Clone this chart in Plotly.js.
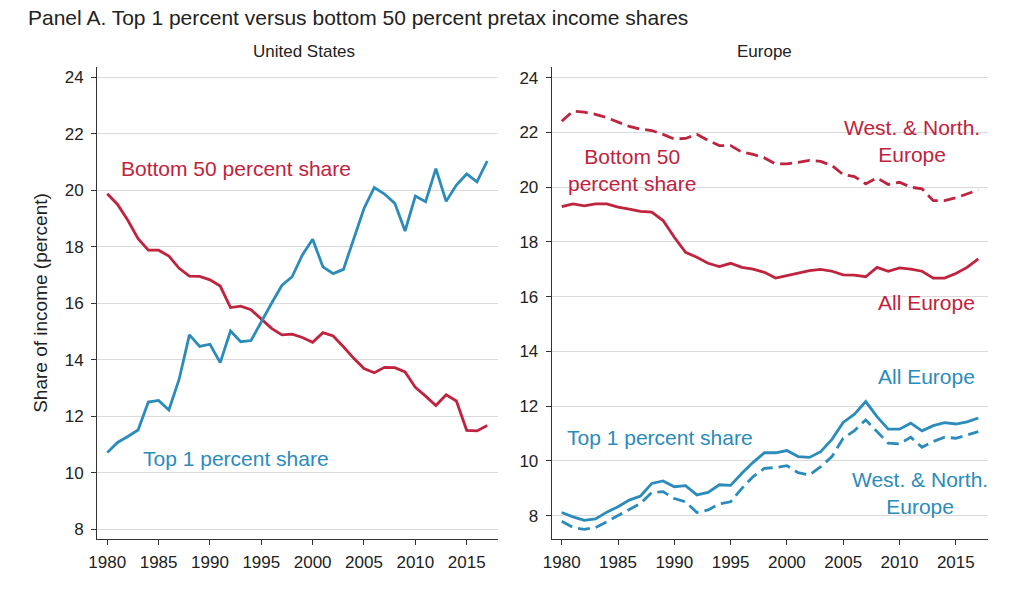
<!DOCTYPE html>
<html>
<head>
<meta charset="utf-8">
<script src="https://cdn.plot.ly/plotly-3.0.1.min.js"></script>
<style>html,body{margin:0;padding:0;background:#fff;}#chart{width:1024px;height:595px;}</style>
</head>
<body>
<div id="chart"></div>
<script>
// ---- Data ----
const years = [1980,1981,1982,1983,1984,1985,1986,1987,1988,1989,
               1990,1991,1992,1993,1994,1995,1996,1997,1998,1999,
               2000,2001,2002,2003,2004,2005,2006,2007,2008,2009,
               2010,2011,2012,2013,2014,2015,2016,2017];

const usBottom50 = [19.88,19.50,18.94,18.29,17.88,17.88,17.67,17.24,16.96,16.95,
                    16.83,16.61,15.85,15.90,15.77,15.43,15.11,14.88,14.91,14.79,
                    14.62,14.96,14.84,14.46,14.05,13.69,13.54,13.73,13.72,13.57,
                    13.02,12.71,12.38,12.76,12.54,11.50,11.48,11.67];

const usTop1 = [10.71,11.07,11.28,11.51,12.50,12.56,12.22,13.31,14.88,14.47,
                14.55,13.90,15.02,14.64,14.68,15.35,16.00,16.63,16.94,17.71,
                18.27,17.29,17.05,17.20,18.30,19.36,20.10,19.87,19.54,18.56,
                19.80,19.60,20.77,19.61,20.19,20.58,20.30,21.04];

const euBottom50All = [19.29,19.39,19.32,19.39,19.39,19.27,19.20,19.12,19.09,18.78,
                       18.17,17.62,17.44,17.22,17.10,17.22,17.07,17.01,16.89,16.68,
                       16.77,16.85,16.95,17.00,16.93,16.80,16.79,16.73,17.07,16.93,
                       17.05,17.01,16.93,16.68,16.68,16.85,17.07,17.38];

const euBottom50WN = [22.41,22.78,22.74,22.66,22.54,22.38,22.22,22.12,22.07,21.93,
                      21.76,21.78,21.93,21.71,21.52,21.52,21.28,21.20,21.07,20.85,
                      20.85,20.91,20.98,20.94,20.79,20.46,20.39,20.12,20.34,20.10,
                      20.18,20.00,19.94,19.51,19.51,19.61,19.76,19.90];

const euTop1All = [8.12,7.96,7.83,7.88,8.13,8.33,8.57,8.72,9.18,9.27,
                   9.06,9.10,8.76,8.85,9.13,9.11,9.55,9.95,10.30,10.30,
                   10.38,10.16,10.13,10.34,10.79,11.41,11.71,12.17,11.62,11.16,
                   11.16,11.38,11.10,11.29,11.40,11.35,11.43,11.57];

const euTop1WN = [7.80,7.57,7.50,7.57,7.78,7.99,8.23,8.45,8.85,8.88,
                  8.63,8.51,8.12,8.21,8.43,8.51,9.00,9.43,9.73,9.76,
                  9.83,9.57,9.49,9.79,10.16,10.83,11.11,11.50,11.07,10.65,
                  10.62,10.87,10.50,10.71,10.87,10.83,10.95,11.07];

const yTicks = [8,10,12,14,16,18,20,22,24];
const xTicks = [1980,1985,1990,1995,2000,2005,2010,2015];

// ---- Styling ----
const RED = '#c0233d';
const BLUE = '#2b8bbb';
const FONT = 'Liberation Sans, Arial, Helvetica, sans-serif';
const LW = 2.8;
const DASH = '12px,6px';

const traces = [
  {x: years, y: usBottom50, xaxis: 'x', yaxis: 'y', mode: 'lines', line: {color: RED, width: LW}, name: 'US bottom 50'},
  {x: years, y: usTop1, xaxis: 'x', yaxis: 'y', mode: 'lines', line: {color: BLUE, width: LW}, name: 'US top 1'},
  {x: years, y: euBottom50WN, xaxis: 'x2', yaxis: 'y2', mode: 'lines', line: {color: RED, width: LW, dash: DASH}, name: 'WN bottom 50'},
  {x: years, y: euBottom50All, xaxis: 'x2', yaxis: 'y2', mode: 'lines', line: {color: RED, width: LW}, name: 'EU bottom 50'},
  {x: years, y: euTop1WN, xaxis: 'x2', yaxis: 'y2', mode: 'lines', line: {color: BLUE, width: LW, dash: DASH}, name: 'WN top 1'},
  {x: years, y: euTop1All, xaxis: 'x2', yaxis: 'y2', mode: 'lines', line: {color: BLUE, width: LW}, name: 'EU top 1'}
];

const xCommon = {
  tickmode: 'array', tickvals: xTicks, ticktext: xTicks.map(String),
  showgrid: false, zeroline: false,
  showline: true, linecolor: '#333', linewidth: 1,
  ticks: 'outside', ticklen: 5, tickcolor: '#333', tickwidth: 1,
  ticklabelstandoff: 3,
  tickfont: {family: FONT, size: 17, color: '#222'}
};
const yCommon = {
  tickmode: 'array', tickvals: yTicks, ticktext: yTicks.map(String),
  showgrid: true, gridcolor: '#dadada', gridwidth: 1, zeroline: false,
  showline: true, linecolor: '#333', linewidth: 1,
  ticks: 'outside', ticklen: 5, tickcolor: '#333', tickwidth: 1,
  ticklabelstandoff: 4,
  tickfont: {family: FONT, size: 17, color: '#222'}
};

function ann(text, x, y, color, xref, yref) {
  return {text: text, x: x, y: y, xref: xref, yref: yref, showarrow: false,
          xanchor: 'center', yanchor: 'middle', align: 'center',
          font: {family: FONT, size: 21, color: color}};
}

const layout = {
  width: 1024, height: 595,
  margin: {l: 20, r: 20, t: 67, b: 56},
  paper_bgcolor: '#fff', plot_bgcolor: '#fff',
  showlegend: false,
  font: {family: FONT, color: '#222'},
  title: {text: 'Panel A. Top 1 percent versus bottom 50 percent pretax income shares',
          x: 28/1024, xanchor: 'left', xref: 'container',
          y: 1 - 18/595, yanchor: 'middle', yref: 'container',
          font: {family: FONT, size: 21, color: '#222'}},
  xaxis: Object.assign({}, xCommon, {domain: [0.07825, 0.48577], range: [1979.0, 2018.05], anchor: 'y'}),
  yaxis: Object.assign({}, yCommon, {domain: [0, 1], range: [7.65, 24.37], anchor: 'x',
          title: {text: 'Share of income (percent)', standoff: 12, font: {family: FONT, size: 19, color: '#222'}}}),
  xaxis2: Object.assign({}, xCommon, {domain: [0.54035, 0.98374], range: [1979.11, 2017.86], anchor: 'y2'}),
  yaxis2: Object.assign({}, yCommon, {domain: [0, 1], range: [7.15, 24.39], anchor: 'x2'}),
  annotations: [
    {text: 'United States', xref: 'paper', yref: 'paper', x: (304-20)/984, y: (539-52)/472,
     showarrow: false, xanchor: 'center', yanchor: 'middle', font: {family: FONT, size: 17, color: '#222'}},
    {text: 'Europe', xref: 'paper', yref: 'paper', x: (764-20)/984, y: (539-52)/472,
     showarrow: false, xanchor: 'center', yanchor: 'middle', font: {family: FONT, size: 17, color: '#222'}},
    ann('Bottom 50 percent share', 1992.5, 20.78, RED, 'x', 'y'),
    ann('Top 1 percent share', 1992.5, 10.51, BLUE, 'x', 'y'),
    ann('Bottom 50<br>percent share', 1986.25, 20.63, RED, 'x2', 'y2'),
    ann('West. &amp; North.<br>Europe', 2011.1, 21.69, RED, 'x2', 'y2'),
    ann('All Europe', 2012.4, 15.78, RED, 'x2', 'y2'),
    ann('All Europe', 2012.4, 13.07, BLUE, 'x2', 'y2'),
    ann('Top 1 percent share', 1988.75, 10.84, BLUE, 'x2', 'y2'),
    ann('West. &amp; North.<br>Europe', 2011.85, 8.83, BLUE, 'x2', 'y2')
  ]
};

Plotly.newPlot('chart', traces, layout, {staticPlot: true, displayModeBar: false});
</script>
</body>
</html>
